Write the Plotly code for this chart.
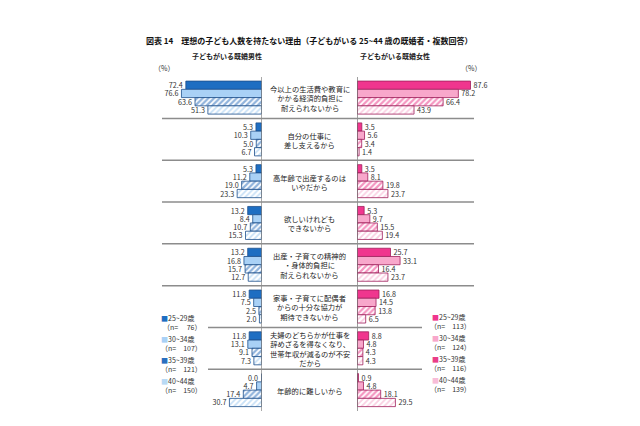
import plotly.graph_objects as go

W, H = 640, 426
FONT = "Noto Sans CJK JP"

# reasons (center labels), top to bottom
reasons = [
    "今以上の生活費や教育に<br>かかる経済的負担に<br>耐えられないから",
    "自分の仕事に<br>差し支えるから",
    "高年齢で出産するのは<br>いやだから",
    "欲しいけれども<br>できないから",
    "出産・子育ての精神的<br>・身体的負担に<br>耐えられないから",
    "家事・子育てに配偶者<br>からの十分な協力が<br>期待できないから",
    "夫婦のどちらかが仕事を<br>辞めざるを得なくなり、<br>世帯年収が減るのが不安<br>だから",
    "年齢的に難しいから",
]
ages = ["25~29歳", "30~34歳", "35~39歳", "40~44歳"]
male_n = [76, 107, 121, 150]
female_n = [113, 124, 116, 139]

# 子どもがいる既婚男性 (%)
male_25_29 = [72.4, 5.3, 5.3, 13.2, 13.2, 11.8, 11.8, 0.0]
male_30_34 = [76.6, 10.3, 11.2, 8.4, 16.8, 7.5, 13.1, 4.7]
male_35_39 = [63.6, 5.0, 19.0, 10.7, 15.7, 2.5, 9.1, 17.4]
male_40_44 = [51.3, 6.7, 23.3, 15.3, 12.7, 2.0, 7.3, 30.7]
# 子どもがいる既婚女性 (%)
female_25_29 = [87.6, 3.5, 3.5, 5.3, 25.7, 16.8, 8.8, 0.9]
female_30_34 = [78.2, 5.6, 8.1, 9.7, 33.1, 14.5, 4.8, 4.8]
female_35_39 = [66.4, 3.4, 19.8, 15.5, 16.4, 13.8, 4.3, 18.1]
female_40_44 = [43.9, 1.4, 23.7, 19.4, 23.7, 6.5, 4.3, 29.5]

male = [male_25_29, male_30_34, male_35_39, male_40_44]
female = [female_25_29, female_30_34, female_35_39, female_40_44]


def px(x):
    return x / W


def py(y):
    return 1 - y / H


male_style = [
    dict(color="#1e6ec2", pattern=None),
    dict(color="#a9d1f6", pattern=None),
    dict(color="#ffffff", pattern=dict(shape="/", fgcolor="#1f66b8", bgcolor="#ffffff", size=4, solidity=0.55)),
    dict(color="#ffffff", pattern=dict(shape="/", fgcolor="#8fc2ee", bgcolor="#ffffff", size=4, solidity=0.45)),
]
female_style = [
    dict(color="#f0368e", pattern=None),
    dict(color="#f8a7cb", pattern=None),
    dict(color="#ffffff", pattern=dict(shape="/", fgcolor="#ea2c82", bgcolor="#ffffff", size=4, solidity=0.55)),
    dict(color="#ffffff", pattern=dict(shape="/", fgcolor="#f5a0c6", bgcolor="#ffffff", size=4, solidity=0.45)),
]

fig = go.Figure()
ann = []
LBL = dict(size=7.2, color="#333333", family=FONT)


def add_side(data, styles, xaxis, outline, anchor):
    for i, (vals, st) in enumerate(zip(data, styles)):
        marker = dict(color=st["color"], line=dict(color=outline, width=0.8))
        if st["pattern"]:
            marker["pattern"] = st["pattern"]
        # zero-length bars get their label through an annotation at x=0
        pos = ["none" if v == 0 else "outside" for v in vals]
        fig.add_trace(go.Bar(
            y=reasons, x=vals, orientation="h", xaxis=xaxis, yaxis="y",
            marker=marker, texttemplate="%{x:.1f}", textposition=pos,
            constraintext="none", cliponaxis=False, textfont=LBL,
            offsetgroup=str(i), showlegend=False,
        ))
        for r, v in zip(reasons, vals):
            if v == 0:
                ann.append(dict(text=f"{v:.1f}", x=0, xref=xaxis, y=r, yref="y",
                                yshift=(1.5 - i) * 8.25, xanchor=anchor,
                                xshift=-2 if anchor == "right" else 2, font=LBL))


add_side(male, male_style, "x", "#1d4f8c", "right")
add_side(female, female_style, "x2", "#a01f5c", "left")

shapes = []
for xr in ["x", "x2"]:
    shapes.append(dict(type="line", xref=xr, yref="paper", x0=0, x1=0,
                       y0=py(411), y1=py(77), line=dict(color="#555555", width=1)))
for k in range(len(reasons) - 1):
    if k in (5, 6):
        x0, x1 = 208, 422
    else:
        x0, x1 = 162, 474
    shapes.append(dict(type="line", xref="paper", yref="y", x0=px(x0), x1=px(x1),
                       y0=k + 0.5, y1=k + 0.5, line=dict(color="#8c8c8c", width=1.5)))

ann.append(dict(text="<b>図表 14　理想の子ども人数を持たない理由（子どもがいる 25~44 歳の既婚者・複数回答）</b>",
                x=px(309), y=py(40), font=dict(size=8, color="#111111")))
ann.append(dict(text="<b>子どもがいる既婚男性</b>", x=px(227), y=py(56), font=dict(size=7, color="#222222")))
ann.append(dict(text="<b>子どもがいる既婚女性</b>", x=px(395), y=py(56), font=dict(size=7, color="#222222")))
ann.append(dict(text="（%）", x=px(164), y=py(68), font=dict(size=7, color="#333333")))
ann.append(dict(text="（%）", x=px(471), y=py(68), font=dict(size=7, color="#333333")))

# center labels inside the box between the two panels
for r in reasons:
    ann.append(dict(text=r, x=px(309.5), xref="paper", y=r, yref="y", yshift=-1,
                    borderpad=0, font=dict(size=7.3, color="#222222")))

male_sw = ["#1e6ec2", "#a9d1f6", "#2a6fbf", "#b9daf5"]
female_sw = ["#f0368e", "#f8a7cb", "#ea3d88", "#f8bdd8"]
rows = [318, 339, 360, 381]
for i, age in enumerate(ages):
    ann.append(dict(text=f"<span style='color:{male_sw[i]}'>■</span>{age}",
                    x=px(159), y=py(rows[i]), xanchor="left", font=dict(size=7, color="#333333")))
    ann.append(dict(text=f"（n=　{male_n[i]:>3}）", x=px(204), y=py(rows[i] + 9),
                    xanchor="right", font=dict(size=7, color="#333333")))
    ann.append(dict(text=f"<span style='color:{female_sw[i]}'>■</span>{age}",
                    x=px(430), y=py(rows[i] - 1), xanchor="left", font=dict(size=7, color="#333333")))
    ann.append(dict(text=f"（n=　{female_n[i]:>3}）", x=px(473), y=py(rows[i] + 8),
                    xanchor="right", font=dict(size=7, color="#333333")))

for a in ann:
    a.setdefault("xref", "paper")
    a.setdefault("yref", "paper")
    a.setdefault("xanchor", "center")
    a.setdefault("yanchor", "middle")
    a["showarrow"] = False

fig.update_layout(
    width=W, height=H, autosize=False,
    margin=dict(l=0, r=0, t=0, b=0),
    paper_bgcolor="white", plot_bgcolor="white",
    font=dict(family=FONT, size=7),
    barmode="group", bargap=0.21, bargroupgap=0,
    xaxis=dict(domain=[px(162), px(261.5)], range=[95.2, 0], anchor="y",
               showticklabels=False, showgrid=False, zeroline=False, showline=False, ticks=""),
    xaxis2=dict(domain=[px(357.3), px(474)], range=[0, 90.3], anchor="y",
                showticklabels=False, showgrid=False, zeroline=False, showline=False, ticks=""),
    yaxis=dict(domain=[py(411), py(76.7)], range=[len(reasons) - 0.5, -0.5], anchor="x",
               showticklabels=False, showgrid=False, zeroline=False, showline=False, ticks=""),
    shapes=shapes,
    annotations=ann,
)

fig.write_html("out.html", config={"displayModeBar": False},
               post_script="document.body.style.margin='0';")
